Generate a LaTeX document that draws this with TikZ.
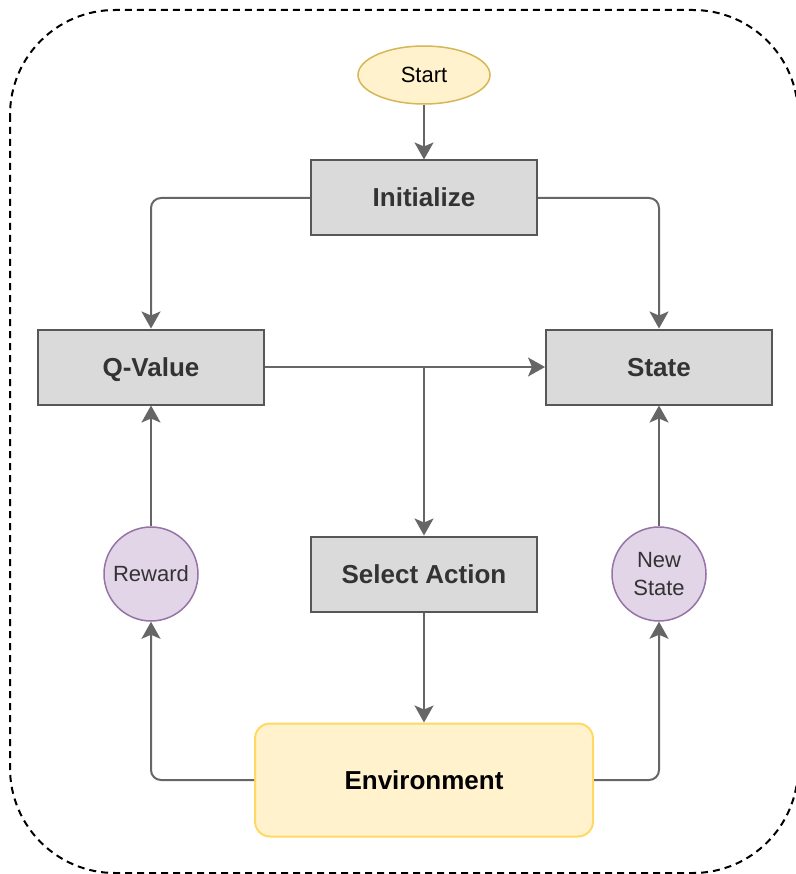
\documentclass[tikz,border=0pt]{standalone}
\usepackage{fontspec}
\setmainfont{Liberation Sans}
\usetikzlibrary{arrows.meta,shapes.geometric}
\definecolor{boxfill}{HTML}{DADADA}
\definecolor{boxline}{HTML}{575757}
\definecolor{textgray}{HTML}{333333}
\definecolor{edgegray}{HTML}{666666}
\definecolor{yellowfill}{HTML}{FFF2CC}
\definecolor{startline}{HTML}{D6B656}
\definecolor{envline}{HTML}{FFD966}
\definecolor{purplefill}{HTML}{E1D5E7}
\definecolor{purpleline}{HTML}{9673A6}
\begin{document}
\begin{tikzpicture}[x=1pt,y=-1pt,
  stepbox/.style={draw=boxline, fill=boxfill, line width=2pt,
    minimum width=226pt, minimum height=75pt, inner sep=0pt,
    text height=22pt, text depth=4pt,
    font=\fontsize{26}{31}\selectfont\bfseries, text=textgray},
  signal/.style={circle, draw=purpleline, fill=purplefill, line width=1.5pt,
    minimum size=94pt, inner sep=0pt, align=center,
    font=\fontsize{22}{28}\selectfont, text=textgray},
  flow/.style={draw=edgegray, line width=2pt, rounded corners=10pt,
    -{Stealth[length=17pt,width=19pt,inset=4pt]}}
]
\useasboundingbox (0,0) rectangle (795,874);

% dashed outer frame
\draw[line width=2pt, dash pattern=on 7pt off 5pt, rounded corners=105pt]
  (10,10) rectangle (798,873);

% nodes
\node[ellipse, draw=startline, fill=yellowfill, line width=1.5pt,
  minimum width=132pt, minimum height=58pt, inner sep=0pt,
  font=\fontsize{22}{26}\selectfont] (start) at (424,75) {Start};
\node[stepbox] (init)  at (424,198) {Initialize};
\node[stepbox] (qval)  at (151,367) {Q-Value};
\node[stepbox] (state) at (659,367) {State};
\node[stepbox] (sel)   at (424,574) {Select Action};
\node[draw=envline, fill=yellowfill, line width=2pt, rounded corners=15pt,
  minimum width=338pt, minimum height=113pt, inner sep=0pt,
  text height=22pt, text depth=4pt,
  font=\fontsize{26}{31}\selectfont\bfseries] (env) at (424,780) {Environment};
\node[signal] (rew)  at (151,574) {Reward};
\node[signal] (news) at (659,574) {New\\State};

% connectors
\coordinate (j) at (sel.north |- qval.east);
\draw[flow] (start) -- (init);
\draw[flow] (init.west) -| (qval.north);
\draw[flow] (init.east) -| (state.north);
\draw[flow] (qval.east) -- (state.west);
\draw[flow] (j) -- (sel.north);
\draw[flow] (sel.south) -- (env.north);
\draw[flow] (env.west) -| (rew.south);
\draw[flow] (rew.north) -- (qval.south);
\draw[flow] (env.east) -| (news.south);
\draw[flow] (news.north) -- (state.south);
\end{tikzpicture}
\end{document}
